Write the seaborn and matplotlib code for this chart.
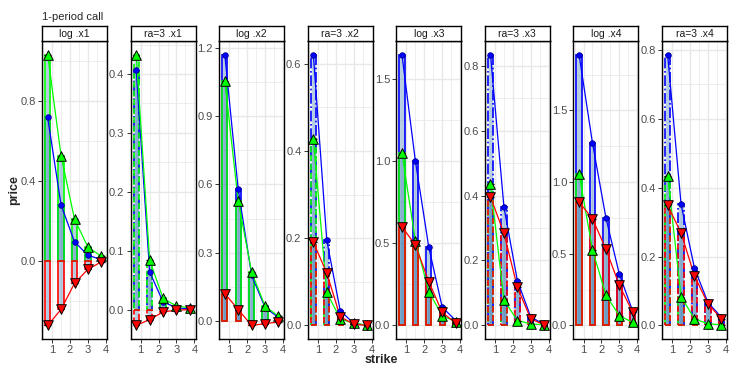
import numpy as np
import pandas as pd
import matplotlib
matplotlib.use("Agg")
import matplotlib.pyplot as plt
from matplotlib.ticker import AutoMinorLocator
import seaborn as sns

sns.set_style("white")
plt.rcParams['font.family'] = ['Liberation Sans', 'DejaVu Sans']

# strikes and panels
strike = [0.75, 1.5, 2.25, 3.0, 3.75]
panels = ["log .x1", "ra=3 .x1", "log .x2", "ra=3 .x2",
          "log .x3", "ra=3 .x3", "log .x4", "ra=3 .x4"]

# blue series (circles)
blue_vals = [
    [0.717, 0.28, 0.097, 0.03, 0.008],
    [0.407, 0.064, 0.013, 0.003, 0.001],
    [1.171, 0.578, 0.20, 0.059, 0.015],
    [0.621, 0.195, 0.034, 0.005, 0.0],
    [1.652, 1.004, 0.477, 0.112, 0.03],
    [0.834, 0.365, 0.138, 0.026, 0.003],
    [1.89, 1.272, 0.751, 0.357, 0.099],
    [0.787, 0.352, 0.166, 0.067, 0.024],
]
# green series (up triangles)
green_vals = [
    [1.03, 0.525, 0.21, 0.07, 0.025],
    [0.433, 0.084, 0.019, 0.006, 0.003],
    [1.054, 0.527, 0.215, 0.065, 0.02],
    [0.428, 0.076, 0.015, 0.005, 0.001],
    [1.052, 0.517, 0.207, 0.059, 0.024],
    [0.435, 0.079, 0.015, 0.005, 0.002],
    [1.056, 0.528, 0.211, 0.068, 0.021],
    [0.434, 0.084, 0.019, 0.005, 0.002],
]
# red series (down triangles)
red_vals = [
    [-0.32, -0.24, -0.11, -0.04, -0.003],
    [-0.027, -0.017, -0.004, -0.001, 0.0],
    [0.12, 0.05, -0.02, -0.012, -0.005],
    [0.191, 0.12, 0.02, 0.003, 0.0],
    [0.602, 0.491, 0.268, 0.079, 0.015],
    [0.396, 0.284, 0.118, 0.02, 0.002],
    [0.862, 0.744, 0.533, 0.28, 0.092],
    [0.349, 0.269, 0.144, 0.063, 0.019],
]
y_ticks = [
    [0.0, 0.4, 0.8],
    [0.0, 0.1, 0.2, 0.3, 0.4],
    [0.0, 0.3, 0.6, 0.9, 1.2],
    [0.0, 0.2, 0.4, 0.6],
    [0.0, 0.5, 1.0, 1.5],
    [0.0, 0.2, 0.4, 0.6, 0.8],
    [0.0, 0.5, 1.0, 1.5],
    [0.0, 0.2, 0.4, 0.6, 0.8],
]
x_ticks = [1, 2, 3, 4]

W, H = 738, 377
fig = plt.figure(figsize=(W / 100, H / 100), dpi=100)

bar_w = 0.3
tick_col = "#4D4D4D"
grid_col = "#E8E8E8"

for i, name in enumerate(panels):
    left = 42 + 88.57 * i
    ax = fig.add_axes([left / W, (H - 339) / H, 65 / W, 298 / H])
    sax = fig.add_axes([left / W, (H - 41) / H, 65 / W, 15 / H])
    ra = name.startswith("ra")

    df = pd.DataFrame({
        "strike": strike * 3,
        "price": blue_vals[i] + green_vals[i] + red_vals[i],
        "series": ["blue"] * 5 + ["green"] * 5 + ["red"] * 5,
    })

    styles = {"blue": "-." if ra else "-", "green": "--" if ra else "-", "red": "--" if ra else "-"}
    cols = {"blue": "#0000FF", "green": "#00FF00", "red": "#FF0000"}

    # bars
    for s in ["blue", "green", "red"]:
        d = df[df.series == s]
        ax.bar(d.strike, d.price, width=bar_w, color="steelblue", alpha=0.4,
               zorder=2)
        ax.bar(d.strike, d.price, width=bar_w, fill=False, edgecolor=cols[s],
               linewidth=1.2, linestyle=styles[s], zorder=2.5)

    # lines
    sns.lineplot(data=df, x="strike", y="price", hue="series", palette=cols,
                 linewidth=0.9, legend=False, ax=ax, zorder=3)

    # black crossbars at the triangles
    for s in ["green", "red"]:
        d = df[df.series == s]
        ax.hlines(d.price, d.strike - 0.18, d.strike + 0.18, color="black",
                  linewidth=1.0, zorder=4)

    # points
    d = df[df.series == "blue"]
    sns.scatterplot(x=d.strike, y=d.price, marker="o", s=16, color="#0000FF",
                    edgecolor="#00008B", linewidth=0.6, ax=ax, zorder=5)
    d = df[df.series == "green"]
    sns.scatterplot(x=d.strike, y=d.price, marker="^", s=48, color="#00FF00",
                    edgecolor="black", linewidth=0.7, ax=ax, zorder=6)
    d = df[df.series == "red"]
    sns.scatterplot(x=d.strike, y=d.price, marker="v", s=48, color="#FF0000",
                    edgecolor="black", linewidth=0.7, ax=ax, zorder=6)

    # limits like ggplot expansion
    lo = min(0, df.price.min())
    hi = max(0, df.price.max())
    span = hi - lo
    ax.set_ylim(lo - 0.05 * span, hi + 0.05 * span)
    xl, xh = strike[0] - bar_w / 2, strike[-1] + bar_w / 2
    xs = xh - xl
    ax.set_xlim(xl - 0.05 * xs, xh + 0.05 * xs)

    ax.set_yticks(y_ticks[i])
    ax.set_yticklabels([f"{t:.1f}" for t in y_ticks[i]])
    ax.set_xticks(x_ticks)
    ax.xaxis.set_minor_locator(AutoMinorLocator(2))
    ax.yaxis.set_minor_locator(AutoMinorLocator(2))
    ax.grid(True, which="major", color=grid_col, linewidth=1.0, zorder=0)
    ax.grid(True, which="minor", color=grid_col, linewidth=0.5, zorder=0)
    ax.set_axisbelow(True)
    ax.tick_params(axis="both", which="major", labelsize=8, colors="#333333",
                   length=3, width=0.7, pad=1.5, labelcolor=tick_col,
                   left=True, bottom=True)
    ax.tick_params(axis="both", which="minor", length=0)
    for sp in ax.spines.values():
        sp.set_color("black")
        sp.set_linewidth(1.0)
    ax.set_xlabel("")
    ax.set_ylabel("")

    sax.set_xticks([])
    sax.set_yticks([])
    for sp in sax.spines.values():
        sp.set_color("black")
        sp.set_linewidth(1.0)
    sax.text(0.5, 0.45, name, ha="center", va="center", fontsize=7.5,
             color="#1A1A1A", transform=sax.transAxes)

fig.text(42 / W, 1 - 17 / H, "1-period call", fontsize=8, ha="left", va="center")
fig.text(14 / W, 1 - 190 / H, "price", fontsize=9, fontweight="bold",
         rotation=90, ha="center", va="center")
fig.text(381 / W, 1 - 360 / H, "strike", fontsize=9, fontweight="bold",
         ha="center", va="center")

fig.savefig("out.png", dpi=100)
